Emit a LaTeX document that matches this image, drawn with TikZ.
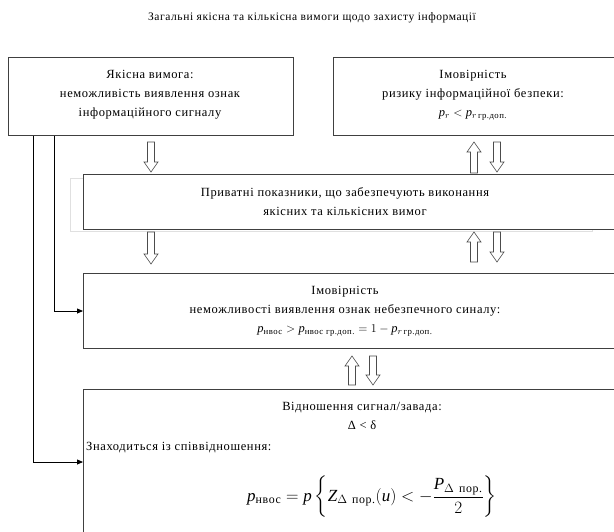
\documentclass[tikz,border=0pt]{standalone}
\usepackage{amsmath}
\usepackage{fontspec}
\setmainfont{Liberation Serif}[LetterSpace=5]
\usetikzlibrary{arrows.meta}
\newcommand{\bdown}[3]{\draw[barrow] ({#1-3.5},#2) -- ({#1+3.5},#2) -- ({#1+3.5},{#3-10}) -- ({#1+7},{#3-10}) -- (#1,#3) -- ({#1-7},{#3-10}) -- ({#1-3.5},{#3-10}) -- cycle;}
\newcommand{\bup}[3]{\draw[barrow] (#1,#2) -- ({#1+7},{#2+10}) -- ({#1+3.5},{#2+10}) -- ({#1+3.5},#3) -- ({#1-3.5},#3) -- ({#1-3.5},{#2+10}) -- ({#1-7},{#2+10}) -- cycle;}
\begin{document}
\begin{tikzpicture}[x=1pt,y=-1pt,
  box/.style={draw=black!75, line width=0.8pt, fill=white, inner sep=0pt, anchor=north west},
  txt/.style={font=\fontsize{12.5}{19}\selectfont, align=center, inner sep=0pt},
  conn/.style={draw=black, line width=0.8pt, -{Triangle[length=6pt,width=5pt]}},
  barrow/.style={draw=black!70, line width=0.6pt, fill=white},
  ghost/.style={draw=black!12, line width=0.8pt}]
\useasboundingbox (0,0) rectangle (614,531);
\clip (0,0) rectangle (614,531);
\node[font=\fontsize{11.5}{14}\selectfont, inner sep=0pt] (title) at (312,18) {Загальні якісна та кількісна вимоги щодо захисту інформації};
% boxes
\node[box, minimum width=285pt, minimum height=78pt] (L) at (8,57) {};
\node[box, minimum width=290pt, minimum height=78pt] (R) at (333,57) {};
\draw[ghost] (70,178) rectangle (592,231);
\node[box, minimum width=540pt, minimum height=55pt] (P) at (83,174) {};
\node[box, minimum width=540pt, minimum height=75pt] (B3) at (83,273) {};
\node[box, minimum width=540pt, minimum height=160pt] (B4) at (83,389) {};
% texts
\node[txt] (Lt) at (150,95) {Якісна вимога:\\неможливість виявлення ознак\\інформаційного сигналу};
\node[txt] (Rt) at (473,95) {Імовірність\\ризику інформаційної безпеки:\\$\mathit{p}_{r} < \mathit{p}_{r\,\text{гр.доп.}}$};
\node[txt] (Pt) at (345,202) {Приватні показники, що забезпечують виконання\\якісних та кількісних вимог};
\node[txt] (B3t) at (345,311) {Імовірність\\неможливості виявлення ознак небезпечного синалу:\\$\mathit{p}_{\text{нвос}} > \mathit{p}_{\text{нвос гр.доп.}} = 1 - \mathit{p}_{r\,\text{гр.доп.}}$};
\node[txt] (B4t) at (362,416) {Відношення сигнал/завада:\\Δ < δ};
\node[txt, anchor=west] (B4s) at (86,448) {Знаходиться із співвідношення:};
\node[inner sep=0pt, font=\fontsize{17}{20}\selectfont] (B4f) at (372,497) {$\displaystyle \mathit{p}_{\text{нвос}} = \mathit{p}\left\{ \mathit{Z}_{\Delta\ \text{пор.}}(\mathit{u}) < -\frac{\mathit{P}_{\Delta\ \text{пор.}}}{2} \right\}$};
% block arrows
\bdown{151}{142}{172}
\bup{474}{142}{173}
\bdown{497}{142}{172}
\bdown{151}{232}{264}
\bup{474}{232}{262}
\bdown{497}{232}{262}
\bup{352}{356}{385}
\bdown{373}{356}{385}
% connectors
\draw[conn] ([xshift=46pt]L.south west) |- ([yshift=-38pt]B3.north west);
\draw[conn] ([xshift=25pt]L.south west) |- ([yshift=-73pt]B4.north west);
\end{tikzpicture}
\end{document}
